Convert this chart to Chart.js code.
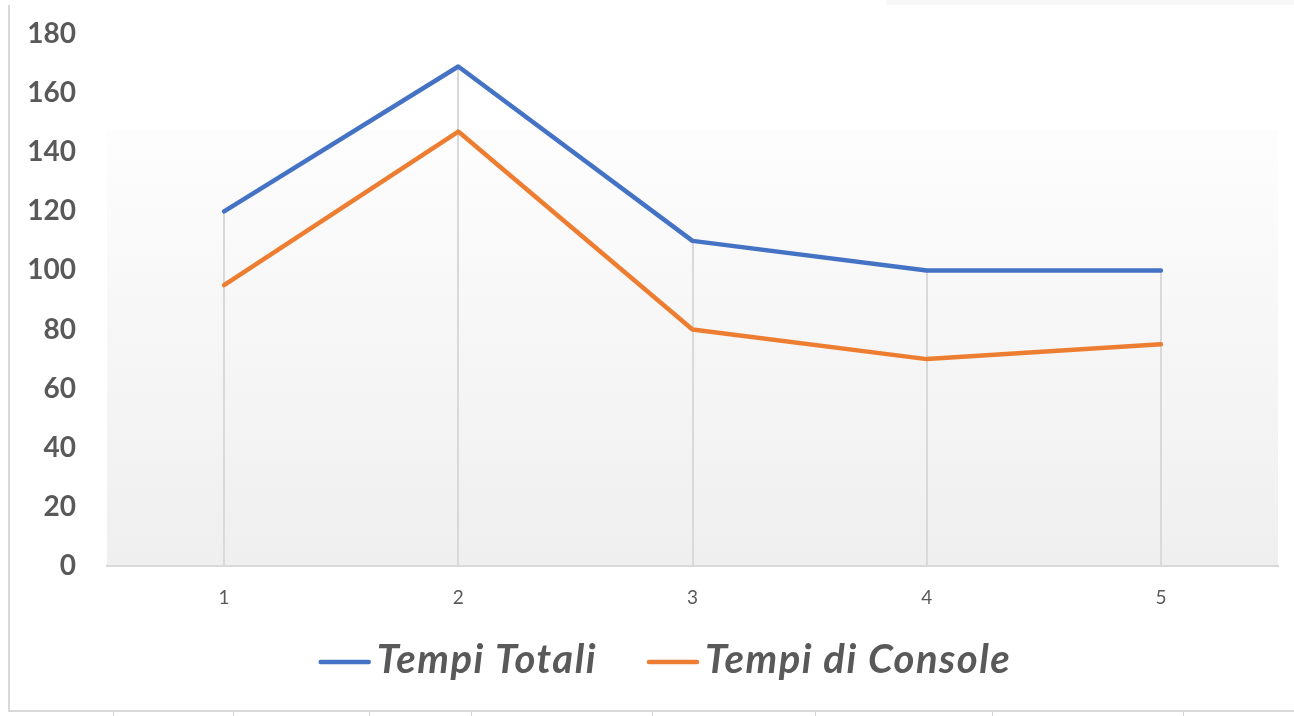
<!DOCTYPE html>
<html>
<head>
<meta charset="utf-8">
<title>Tempi Totali / Tempi di Console</title>
<script src="https://cdn.jsdelivr.net/npm/chart.js@4.4.1/dist/chart.umd.min.js"></script>
<style>
  html, body { margin: 0; padding: 0; background: #ffffff; }
  #wrap { position: relative; width: 1294px; height: 716px; overflow: hidden; }
  #chart { position: absolute; left: 0; top: 0; }
  .frame { position: absolute; background: #d9d9d9; }
  .tick { position: absolute; top: 712px; width: 1px; height: 4px; background: #d4d4d4; }
</style>
</head>
<body>
<div id="wrap">
  <canvas id="chart" width="1294" height="716"></canvas>
  <div class="frame" style="left:886px; top:0; width:408px; height:5px; background:#f7f7f7;"></div>
  <div class="frame" style="left:8px; top:5px; width:2px; height:707px;"></div>
  <div class="frame" style="left:8px; top:710px; width:1286px; height:2px;"></div>
  <div class="tick" style="left:113px"></div>
  <div class="tick" style="left:233px"></div>
  <div class="tick" style="left:369px"></div>
  <div class="tick" style="left:471px"></div>
  <div class="tick" style="left:652px"></div>
  <div class="tick" style="left:815px"></div>
  <div class="tick" style="left:992px"></div>
  <div class="tick" style="left:1183px"></div>
</div>
<script>
// Categories and series
const categories = ['1', '2', '3', '4', '5'];
const tempiTotali = [120, 169, 110, 100, 100];
const tempiConsole = [95, 147, 80, 70, 75];
const seriesNames = ['Tempi Totali', 'Tempi di Console'];
const yTicks = [0, 20, 40, 60, 80, 100, 120, 140, 160, 180];

const BLUE = '#4472C4';
const ORANGE = '#ED7D31';
const TEXT = '#595959';
const LINE_GREY = '#d9d9d9';

// Soft vertical gradient behind the lower part of the plot area
const plotBackground = {
  id: 'plotBackground',
  beforeDraw(chart) {
    const { ctx, chartArea } = chart;
    const h = chartArea.bottom - chartArea.top;
    const top = chartArea.top + h * 0.18;
    const g = ctx.createLinearGradient(0, top, 0, chartArea.bottom);
    g.addColorStop(0, '#fdfdfd');
    g.addColorStop(1, '#efefef');
    ctx.save();
    ctx.fillStyle = g;
    ctx.fillRect(chartArea.left, top, chartArea.right - chartArea.left, chartArea.bottom - top);
    ctx.restore();
  }
};

// Drop lines from the highest point of each category down to the x axis
const dropLines = {
  id: 'dropLines',
  beforeDatasetsDraw(chart) {
    const { ctx, chartArea, scales } = chart;
    ctx.save();
    ctx.strokeStyle = LINE_GREY;
    ctx.lineWidth = 2;
    categories.forEach((c, i) => {
      const vals = chart.data.datasets.map(d => d.data[i]);
      const top = scales.y.getPixelForValue(Math.max(...vals));
      const x = Math.round(scales.x.getPixelForValue(i));
      ctx.beginPath();
      ctx.moveTo(x, top);
      ctx.lineTo(x, chartArea.bottom);
      ctx.stroke();
    });
    ctx.restore();
  }
};

// Legend row under the axis
const bottomLegend = {
  id: 'bottomLegend',
  afterDraw(chart) {
    const { ctx } = chart;
    const lineLen = 52, textGap = 6, itemGap = 50;
    const lineY = 662, baseY = 673;
    ctx.save();
    ctx.font = 'italic bold 40px Lato';
    ctx.letterSpacing = '1.5px';
    const items = chart.data.datasets.map(d => ({
      label: d.label, color: d.borderColor, w: ctx.measureText(d.label).width
    }));
    let total = 0;
    items.forEach((it, i) => { total += lineLen + textGap + it.w + (i ? itemGap : 0); });
    let x = chart.width / 2 + 18 - total / 2;
    items.forEach(it => {
      ctx.strokeStyle = it.color;
      ctx.lineWidth = 4.5;
      ctx.lineCap = 'round';
      ctx.beginPath();
      ctx.moveTo(x + 2, lineY);
      ctx.lineTo(x + lineLen - 2, lineY);
      ctx.stroke();
      x += lineLen + textGap;
      ctx.fillStyle = TEXT;
      ctx.textBaseline = 'alphabetic';
      ctx.textAlign = 'left';
      ctx.fillText(it.label, x, baseY);
      x += it.w + itemGap;
    });
    ctx.restore();
  }
};

function build() {
  new Chart(document.getElementById('chart'), {
    type: 'line',
    data: {
      labels: categories,
      datasets: [
        { label: seriesNames[0], data: tempiTotali, borderColor: BLUE, backgroundColor: BLUE },
        { label: seriesNames[1], data: tempiConsole, borderColor: ORANGE, backgroundColor: ORANGE }
      ]
    },
    options: {
      responsive: false,
      animation: false,
      devicePixelRatio: 1,
      layout: { padding: { left: 0, right: 16, top: 34, bottom: 100 } },
      elements: {
        line: { borderWidth: 4.5, tension: 0, borderCapStyle: 'round', borderJoinStyle: 'round' },
        point: { radius: 0, hoverRadius: 0 }
      },
      plugins: {
        legend: { display: false },
        tooltip: { enabled: false }
      },
      scales: {
        x: {
          offset: true,
          grid: { display: false, drawTicks: false },
          border: { display: true, color: LINE_GREY, width: 2 },
          ticks: { color: TEXT, font: { family: 'Lato', size: 19 }, padding: 20 },
          afterFit(scale) { scale.height = 50; }
        },
        y: {
          min: 0,
          max: 180,
          afterBuildTicks(scale) { scale.ticks = yTicks.map(v => ({ value: v })); },
          grid: { display: false, drawTicks: false },
          border: { display: false },
          ticks: { color: TEXT, font: { family: 'Lato', size: 28, weight: 'bold' }, padding: 31 },
          afterFit(scale) {
            scale.width = 107;
            scale.paddingTop = 14;
            scale.paddingBottom = 14;
          }
        }
      }
    },
    plugins: [plotBackground, dropLines, bottomLegend]
  });
}

Promise.all([
  document.fonts.load('bold 28px Lato'),
  document.fonts.load('19px Lato'),
  document.fonts.load('italic bold 40px Lato')
]).then(build, build);
</script>
</body>
</html>
